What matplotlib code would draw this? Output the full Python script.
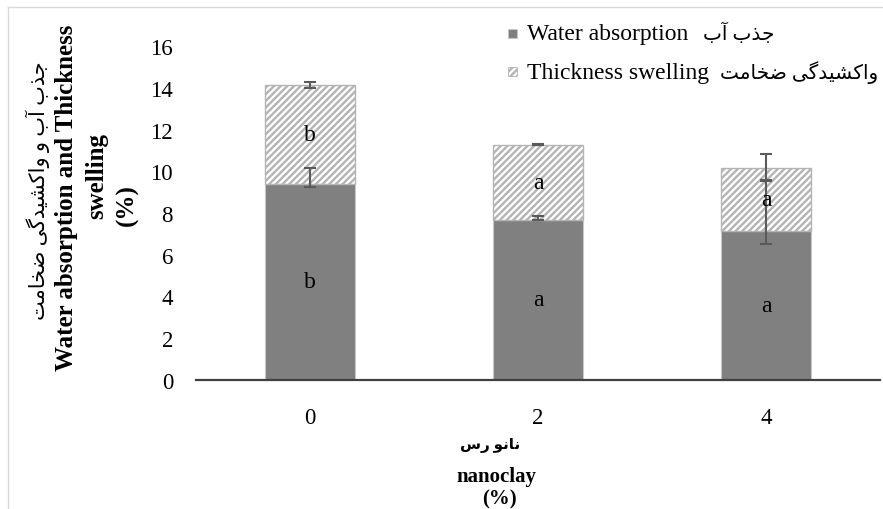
import matplotlib
matplotlib.use("Agg")
import matplotlib.pyplot as plt
from matplotlib.patches import Rectangle
from matplotlib.lines import Line2D

# ---------------- data ----------------
categories = ["0", "2", "4"]
water = [9.39, 7.68, 7.14]
thickness = [4.77, 3.60, 3.04]
# error bar extents (low, high)
water_err_low = [9.27, 7.66, 6.53]
water_err_high = [10.16, 7.84, 9.57]
total_err = [0.14, 0.02, 0.66]
water_letters = ["b", "a", "a"]
thick_letters = ["b", "a", "a"]
legend_en = ["Water absorption", "Thickness swelling"]
legend_fa = ["جذب آب", "واکشیدگی ضخامت"]

# ---------------- Persian shaping helper ----------------
FORMS = {
    'ا': ('\uFE8D', '\uFE8E', None, None),
    'آ': ('\uFE81', '\uFE82', None, None),
    'ب': ('\uFE8F', '\uFE90', '\uFE91', '\uFE92'),
    'ت': ('\uFE95', '\uFE96', '\uFE97', '\uFE98'),
    'ج': ('\uFE9D', '\uFE9E', '\uFE9F', '\uFEA0'),
    'خ': ('\uFEA5', '\uFEA6', '\uFEA7', '\uFEA8'),
    'د': ('\uFEA9', '\uFEAA', None, None),
    'ذ': ('\uFEAB', '\uFEAC', None, None),
    'ر': ('\uFEAD', '\uFEAE', None, None),
    'س': ('\uFEB1', '\uFEB2', '\uFEB3', '\uFEB4'),
    'ش': ('\uFEB5', '\uFEB6', '\uFEB7', '\uFEB8'),
    'ض': ('\uFEBD', '\uFEBE', '\uFEBF', '\uFEC0'),
    'م': ('\uFEE1', '\uFEE2', '\uFEE3', '\uFEE4'),
    'ن': ('\uFEE5', '\uFEE6', '\uFEE7', '\uFEE8'),
    'و': ('\uFEED', '\uFEEE', None, None),
    'ک': ('\uFB8E', '\uFB8F', '\uFB90', '\uFB91'),
    'گ': ('\uFB92', '\uFB93', '\uFB94', '\uFB95'),
    'ی': ('\uFBFC', '\uFBFD', '\uFBFE', '\uFBFF'),
}


def shape(s):
    out = []
    for i, c in enumerate(s):
        if c not in FORMS:
            out.append(c)
            continue
        prev = s[i - 1] if i > 0 else None
        nxt = s[i + 1] if i + 1 < len(s) else None
        jp = prev in FORMS and FORMS[prev][2] is not None
        jn = FORMS[c][2] is not None and nxt in FORMS
        iso, fin, ini, med = FORMS[c]
        if jp and jn:
            out.append(med)
        elif jp:
            out.append(fin)
        elif jn:
            out.append(ini)
        else:
            out.append(iso)
    return ''.join(reversed(out))


FAM = ['Liberation Serif', 'DejaVu Sans']
plt.rcParams['font.family'] = FAM
plt.rcParams['hatch.linewidth'] = 1.7

W, H = 883, 510
fig = plt.figure(figsize=(W / 100, H / 100), dpi=100)

def fx(px):
    return px / W

def fy(py):
    return 1 - py / H

ax = fig.add_axes([fx(196), fy(380.7), fx(880) - fx(196), fy(47.3) - fy(380.7)])

x = list(range(len(categories)))
bw = 0.395
dark = '#808080'
hatch_col = '#b4b4b4'
b1 = ax.bar(x, water, bw, color=dark, edgecolor='#c8c8c8', linewidth=0.8, zorder=2)
b2 = ax.bar(x, thickness, bw, bottom=water, facecolor='white', edgecolor=hatch_col,
            hatch='/////', linewidth=1.0, zorder=2)

err_col = '#5a5a5a'
mid = [(lo + hi) / 2 for lo, hi in zip(water_err_low, water_err_high)]
half = [(hi - lo) / 2 for lo, hi in zip(water_err_low, water_err_high)]
ax.errorbar(x, mid, yerr=half, fmt='none', ecolor=err_col, elinewidth=1.5,
            capsize=4.5, capthick=1.5, zorder=4)
totals = [w + t for w, t in zip(water, thickness)]
ax.errorbar(x, totals, yerr=total_err, fmt='none', ecolor=err_col, elinewidth=1.5,
            capsize=4.5, capthick=1.5, zorder=4)

ax.bar_label(b1, labels=water_letters, label_type='center', fontsize=17, color='black', zorder=5)
ax.bar_label(b2, labels=thick_letters, label_type='center', fontsize=17, color='black', zorder=5)

ax.set_xlim(-0.5, 2.5)
ax.set_ylim(0, 16)
ax.set_yticks(range(0, 17, 2))
ax.set_xticks(x)
ax.set_xticklabels(categories)
ax.tick_params(axis='y', length=0, labelsize=16.5, pad=16.5)
ax.tick_params(axis='x', length=0, labelsize=16.5, pad=19.5)
for s in ['top', 'right', 'left']:
    ax.spines[s].set_visible(False)
ax.spines['bottom'].set_color('#404040')
ax.spines['bottom'].set_linewidth(1.6)
ax.spines['bottom'].set_zorder(6)

# legend (built by hand so the Persian part can be sized separately)
baselines = [40.5, 79.0]
fa_x = [703, 720]
styles = [dict(facecolor=dark, edgecolor='#c8c8c8'),
          dict(facecolor='white', edgecolor=hatch_col, hatch='/////')]
for yb, en, fa, fxp, st in zip(baselines, legend_en, legend_fa, fa_x, styles):
    fig.add_artist(Rectangle((fx(508), fy(yb - 2)), fx(9), 9 / H,
                             transform=fig.transFigure, linewidth=0.6, **st))
    fig.text(fx(527), fy(yb), en, ha='left', va='baseline', fontsize=17)
    fig.text(fx(fxp), fy(yb), shape(fa), ha='left', va='baseline', fontsize=14.5)

# y-axis title lines
fig.text(fx(38), fy(191), shape("جذب آب و واکشیدگی ضخامت"), rotation=90,
         ha='center', va='center', fontsize=15)
fig.text(fx(67), fy(198), "Water absorption and Thickness", rotation=90,
         ha='center', va='center', fontsize=18, fontweight='bold')
fig.text(fx(97), fy(176), "swelling", rotation=90,
         ha='center', va='center', fontsize=18, fontweight='bold')
fig.text(fx(127), fy(205), "(%)", rotation=90,
         ha='center', va='center', fontsize=18, fontweight='bold')

# x-axis title lines
fig.text(fx(490), fy(446), shape("نانو رس"), ha='center', va='center',
         fontsize=11, fontweight='bold')
fig.text(fx(496), fy(477), "nanoclay", ha='center', va='center',
         fontsize=15, fontweight='bold')
fig.text(fx(499), fy(499), "(%)", ha='center', va='center',
         fontsize=15, fontweight='bold')

# chart-area frame (left and top edges visible)
fig.add_artist(Line2D([fx(8), fx(8)], [fy(8), 0], color='#d9d9d9', lw=1.0))
fig.add_artist(Line2D([fx(8), 1], [fy(8), fy(8)], color='#d9d9d9', lw=1.0))

fig.savefig("out.png", dpi=100)
